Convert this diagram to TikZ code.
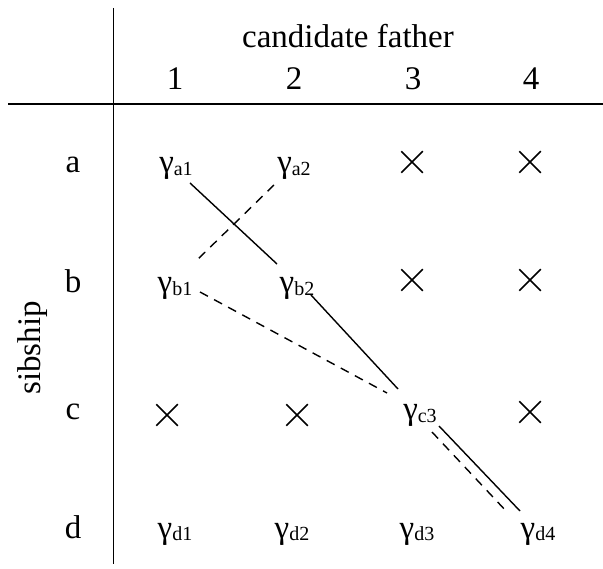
\documentclass[tikz,border=0pt]{standalone}
\usepackage{fontspec}
\setmainfont{Liberation Serif}
\usetikzlibrary{shapes.misc}
\newcommand{\gsub}[1]{γ\raisebox{-2.5pt}{\fontsize{20}{20}\selectfont #1}}
\tikzset{
  lbl/.style={anchor=base, inner sep=0pt, font=\fontsize{33}{40}\selectfont},
  gam/.style={anchor=base, inner sep=0pt, font=\fontsize{33}{40}\selectfont},
  nope/.style={cross out, draw, minimum size=20pt, inner sep=0pt, line width=1.5pt},
  axis/.style={line width=1.7pt},
  sol/.style={line width=1.4pt},
  dsh/.style={line width=1.4pt, dash pattern=on 9pt off 7pt},
}
\begin{document}
\begin{tikzpicture}[x=1pt,y=-1pt]
\useasboundingbox (0,0) rectangle (603,569);
% axes
\coordinate (vtop) at (113.5,8);
\coordinate (vbot) at (113.5,564);
\coordinate (hl) at (8,104);
\coordinate (hr) at (603,104);
\draw[axis] (vtop) -- (vbot);
\draw[axis] (hl) -- (hr);
% headers
\node[lbl] (title) at (348,48) {candidate father};
\node[lbl] (c1) at (175,90) {1};
\node[lbl] (c2) at (294,90) {2};
\node[lbl] (c3h) at (413,90) {3};
\node[lbl] (c4) at (531,90) {4};
\node[lbl] (ra) at (73,173) {a};
\node[lbl] (rb) at (73,293) {b};
\node[lbl] (rc) at (73,420) {c};
\node[lbl] (rd) at (73,538) {d};
\node[lbl, rotate=90] (sib) at (40,348) {sibship};
% gammas
\node[gam] (a1) at (176,173) {\gsub{a1}};
\node[gam] (a2) at (294,173) {\gsub{a2}};
\node[gam] (b1) at (175,293) {\gsub{b1}};
\node[gam] (b2) at (297,293) {\gsub{b2}};
\node[gam] (c3) at (420,420) {\gsub{c3}};
\node[gam] (d1) at (175,538) {\gsub{d1}};
\node[gam] (d2) at (292,538) {\gsub{d2}};
\node[gam] (d3) at (417,538) {\gsub{d3}};
\node[gam] (d4) at (538,538) {\gsub{d4}};
% crosses
\node[nope] (xa3) at (412,162) {};
\node[nope] (xa4) at (530,162) {};
\node[nope] (xb3) at (412,280) {};
\node[nope] (xb4) at (530,280) {};
\node[nope] (xc1) at (167,415) {};
\node[nope] (xc2) at (297,415) {};
\node[nope] (xc4) at (530,412) {};
% connectors
\draw[sol] ([xshift=14pt,yshift=-10pt]a1.base) -- ([xshift=-20pt,yshift=29pt]b2.base);
\draw[dsh] ([xshift=-20pt,yshift=-12pt]a2.base) -- ([xshift=20pt,yshift=31pt]b1.base);
\draw[sol] ([xshift=14pt,yshift=-2pt]b2.base) -- ([xshift=-22pt,yshift=31pt]c3.base);
\draw[dsh] ([xshift=25pt,yshift=1pt]b1.base) -- ([xshift=-33pt,yshift=27pt]c3.base);
\draw[sol] ([xshift=19pt,yshift=-6pt]c3.base) -- ([xshift=-18pt,yshift=27pt]d4.base);
\draw[dsh] ([xshift=12pt,yshift=-12pt]c3.base) -- ([xshift=-31pt,yshift=26pt]d4.base);
\end{tikzpicture}
\end{document}
